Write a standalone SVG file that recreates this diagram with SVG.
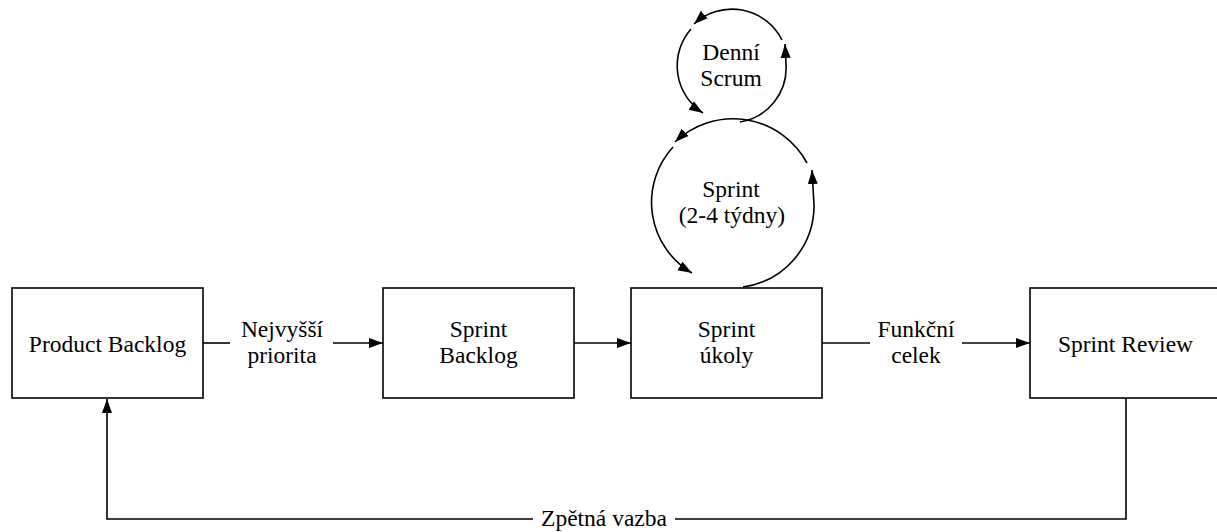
<svg xmlns="http://www.w3.org/2000/svg" width="1217" height="532" viewBox="0 0 1217 532">
<style>
.box{fill:#fff;stroke:#000;stroke-width:1.6}
.ln{fill:none;stroke:#000;stroke-width:1.6}
text{font-family:'Liberation Serif','DejaVu Serif','Times New Roman',serif;font-size:23.5px;fill:#000;text-anchor:middle}
</style>
<defs>
<marker id="ah" markerUnits="userSpaceOnUse" markerWidth="15" markerHeight="12" refX="14" refY="5.5" orient="auto">
<path d="M0,0.5 L14,5.5 L0,10.5 z" fill="#000"/>
</marker>
</defs>
<rect width="1217" height="532" fill="#fff"/>
<g id="connectors" font-family="Liberation Serif, serif">
<path class="ln" d="M203,343 H230"/>
<path class="ln" d="M333,343 H383" marker-end="url(#ah)"/>
<path class="ln" d="M574,343 H631" marker-end="url(#ah)"/>
<path class="ln" d="M822,343 H870"/>
<path class="ln" d="M962,343 H1030" marker-end="url(#ah)"/>
<path class="ln" d="M1126,398 V519 H675"/>
<path class="ln" d="M533,519 H107 V399" marker-end="url(#ah)"/>
<path class="ln" d="M743,287 A82,82 0 0 0 814,205 L812,170" marker-end="url(#ah)"/>
<path class="ln" d="M807,163 A84,84 0 0 0 675,142" marker-end="url(#ah)"/>
<path class="ln" d="M673,147 A82,82 0 0 0 692,273" marker-end="url(#ah)"/>
<path class="ln" d="M740,122 A55,55 0 0 0 786,64 L785,44" marker-end="url(#ah)"/>
<path class="ln" d="M782,40 A56,56 0 0 0 694,24" marker-end="url(#ah)"/>
<path class="ln" d="M691,29 A56,56 0 0 0 703,113" marker-end="url(#ah)"/>
<text x="282" y="337">Nejvyšší</text>
<text x="282" y="363">priorita</text>
<text x="916" y="337">Funkční</text>
<text x="916" y="363">celek</text>
<text x="604" y="526">Zpětná vazba</text>
<text x="731" y="60">Denní</text>
<text x="731" y="86">Scrum</text>
<text x="731" y="197">Sprint</text>
<text x="732" y="223">(2-4 týdny)</text>
</g>
<g id="product-backlog">
<rect class="box" x="12" y="288" width="191" height="110"/>
<text x="107.5" y="352">Product Backlog</text>
</g>
<g id="sprint-backlog">
<rect class="box" x="383" y="288" width="191" height="110"/>
<text x="478.5" y="337">Sprint</text>
<text x="478.5" y="363">Backlog</text>
</g>
<g id="sprint-ukoly">
<rect class="box" x="631" y="288" width="191" height="110"/>
<text x="726.5" y="337">Sprint</text>
<text x="726.5" y="363">úkoly</text>
</g>
<g id="sprint-review">
<rect class="box" x="1030" y="288" width="191" height="110"/>
<text x="1125.5" y="352">Sprint Review</text>
</g>
</svg>
